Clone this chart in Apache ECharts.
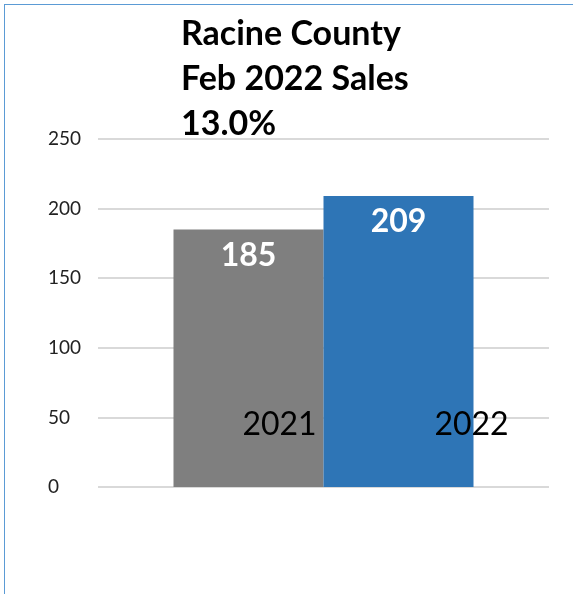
<!DOCTYPE html>
<html><head><meta charset="utf-8">
<script src="https://cdn.jsdelivr.net/npm/echarts@6/dist/echarts.min.js"></script>
<style>
html,body{margin:0;padding:0;background:#fff;}
#c{position:absolute;left:0;top:0;width:573px;height:594px;}
#frame{position:absolute;left:4px;top:4px;width:580px;height:600px;border-left:1px solid #5b9bd5;border-top:1px solid #5b9bd5;pointer-events:none;}
</style></head>
<body>
<div id="c"></div>
<div id="frame"></div>
<script>
var titleLines = ['Racine County', 'Feb 2022 Sales', '13.0%'];
var years = ['2021', '2022'];
var values = [185, 209];
var yTicks = [0, 50, 100, 150, 200, 250];
var colors = ['#7f7f7f', '#2e75b6'];
var nameOffsets = [[31, -41], [73, -41]];

var FONT = 'Lato';
var chart = echarts.init(document.getElementById('c'));
var series = [];
years.forEach(function (y, i) {
  series.push({
    name: y, type: 'bar', xAxisIndex: 0, barWidth: 150, barGap: '0%',
    data: [values[i]],
    itemStyle: {color: colors[i]},
    label: {show: true, position: 'insideTop', distance: 10, color: '#fff',
      fontFamily: FONT, fontWeight: 'bold', fontSize: 32},
    silent: true
  });
});
years.forEach(function (y, i) {
  series.push({
    name: y + ' label', type: 'bar', xAxisIndex: 1, barWidth: 150, barGap: '0%',
    data: [values[i]],
    itemStyle: {color: 'rgba(0,0,0,0)'},
    label: {show: true, position: 'insideBottom', offset: nameOffsets[i],
      formatter: y, color: '#000', fontFamily: FONT, fontSize: 32},
    silent: true, z: 5
  });
});
chart.setOption({
  animation: false,
  title: {
    text: titleLines.join('\n'), left: 181, top: 12, padding: 0,
    textStyle: {fontFamily: FONT, fontWeight: 'bold', fontSize: 34, color: '#000', lineHeight: 45}
  },
  grid: {left: 98, right: 24, top: 139, bottom: 107},
  xAxis: [
    {type: 'category', data: ['Sales'], axisLine: {show: false}, axisTick: {show: false}, axisLabel: {show: false}},
    {type: 'category', data: ['Sales'], show: false}
  ],
  yAxis: {
    type: 'value', min: 0, max: 250, interval: 50,
    axisLine: {show: false}, axisTick: {show: false},
    splitLine: {lineStyle: {color: '#d9d9d9', width: 2}},
    axisLabel: {align: 'left', margin: 50, fontFamily: FONT, fontSize: 19, color: '#222',
      formatter: function (v) { return yTicks.indexOf(v) >= 0 ? String(v) : ''; }}
  },
  series: series
});
</script>
</body></html>
